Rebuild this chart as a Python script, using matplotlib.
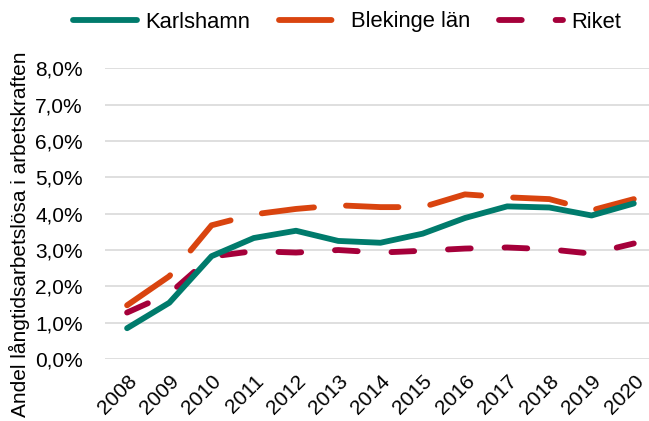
import matplotlib
matplotlib.use("Agg")
import matplotlib.pyplot as plt
from matplotlib.ticker import FuncFormatter

plt.rcParams['font.family'] = ['Liberation Sans', 'DejaVu Sans']

years = [2008, 2009, 2010, 2011, 2012, 2013, 2014, 2015, 2016, 2017, 2018, 2019, 2020]
karlshamn = [0.85, 1.55, 2.83, 3.33, 3.53, 3.25, 3.2, 3.45, 3.88, 4.2, 4.17, 3.95, 4.28]
blekinge = [1.48, 2.28, 3.68, 3.98, 4.13, 4.23, 4.18, 4.18, 4.53, 4.45, 4.4, 4.09, 4.4]
riket = [1.28, 1.8, 2.82, 2.97, 2.93, 3.0, 2.93, 2.98, 3.04, 3.07, 3.02, 2.9, 3.18]

c_karl = '#007B6C'
c_blek = '#D9440F'
c_rik = '#A5003A'

fig = plt.figure(figsize=(6.49, 4.21), dpi=100)
ax = fig.add_axes([0.162, 0.147, 0.838, 0.691])

lw = 4.2
ax.plot(years, karlshamn, color=c_karl, lw=lw, solid_capstyle='round',
        solid_joinstyle='round', label='Karlshamn', zorder=3)
ax.plot(years, blekinge, color=c_blek, lw=lw, dashes=(9, 5.5), dash_capstyle='round',
        dash_joinstyle='round', label='Blekinge län', zorder=2)
ax.plot(years, riket, color=c_rik, lw=lw, dashes=(3.9, 5.8), dash_capstyle='round',
        dash_joinstyle='round', label='Riket', zorder=2)

ax.set_ylim(0, 8)
ax.set_xlim(2007.48, 2020.36)
ax.set_yticks(range(0, 9))
ax.yaxis.set_major_formatter(FuncFormatter(lambda v, p: f'{v:.1f}%'.replace('.', ',')))
ax.set_xticks(years)
ax.set_xticklabels([str(y) for y in years], rotation=45, ha='right',
                   rotation_mode='anchor')
ax.tick_params(axis='both', length=0, labelsize=15)
ax.tick_params(axis='x', pad=9)
ax.tick_params(axis='y', pad=16)
ax.grid(axis='y', color='#D9D9D9', lw=1.2)
ax.set_axisbelow(True)
for s in ax.spines.values():
    s.set_visible(False)

fig.text(19 / 649, 1 - 234 / 421, 'Andel långtidsarbetslösa i arbetskraften',
         rotation=90, ha='center', va='center', fontsize=15)

fig.legend(loc='center', bbox_to_anchor=(0.535, 1 - 22 / 421), ncol=3, frameon=False,
           fontsize=15.8, handlelength=2.9, columnspacing=1.3, handletextpad=0.4)

fig.savefig('out.png', dpi=100)
